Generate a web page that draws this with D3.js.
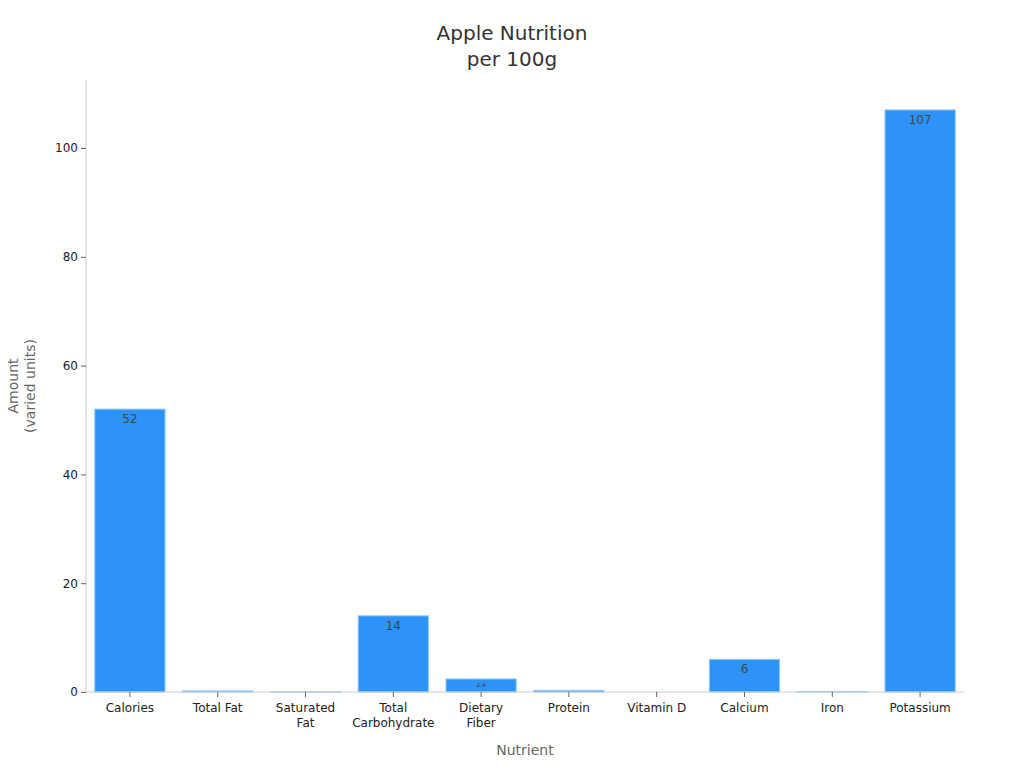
<!DOCTYPE html>
<html><head><meta charset="utf-8">
<script src="https://cdn.jsdelivr.net/npm/d3@7"></script>
<style>body{margin:0;background:#fff;font-family:"DejaVu Sans",sans-serif;}</style>
</head><body><svg id="c" width="1024" height="768"></svg>
<script>
const categories = ["Calories","Total Fat","Saturated Fat","Total Carbohydrate","Dietary Fiber","Protein","Vitamin D","Calcium","Iron","Potassium"];
const values = [52, 0.2, 0.03, 14, 2.4, 0.3, 0, 6, 0.1, 107];
const yTicks = [0, 20, 40, 60, 80, 100];

const svg = d3.select("#c");
const m = {l:86, r:964, t:80, b:692};
const x = d3.scaleBand().domain(categories).range([m.l, m.r]).paddingInner(0.2).paddingOuter(0.1);
const y = d3.scaleLinear().domain([0, 112.5]).range([m.b, m.t]);

svg.append("text").attr("x",512).attr("y",40).attr("text-anchor","middle")
  .attr("font-size",20).attr("fill","#333").text("Apple Nutrition");
svg.append("text").attr("x",512).attr("y",66).attr("text-anchor","middle")
  .attr("font-size",20).attr("fill","#333").text("per 100g");

// bars
svg.append("g").selectAll("rect").data(categories).join("rect")
  .attr("x", d => x(d)).attr("width", x.bandwidth())
  .attr("y", (d,i) => y(values[i])).attr("height", (d,i) => y(0)-y(values[i]))
  .attr("fill","#2e93f8").attr("stroke","#8ec9f8").attr("stroke-width",1);

// labels
const fsOf = i => Math.min(12,(y(0)-y(values[i]))*0.45);
svg.append("g").selectAll("text").data(categories).join("text")
  .attr("x", d => x(d)+x.bandwidth()/2)
  .attr("y", (d,i) => y(values[i])+fsOf(i)+2)
  .attr("text-anchor","middle").attr("fill","#444")
  .attr("font-size",(d,i)=>fsOf(i))
  .text((d,i)=> (y(0)-y(values[i]))>6 ? values[i] : "");

// y axis
const ya = svg.append("g").attr("transform",`translate(${m.l},0)`)
  .call(d3.axisLeft(y).tickValues(yTicks).tickSize(5).tickPadding(3));
ya.select(".domain").attr("stroke","#ccc").attr("d",`M0,${m.t}V${m.b}`);
ya.selectAll(".tick line").attr("stroke","#666");
ya.selectAll(".tick text").attr("font-size",12).attr("fill","#222").attr("font-family","DejaVu Sans");

// x axis
const xa = svg.append("g").attr("transform",`translate(0,${m.b})`)
  .call(d3.axisBottom(x).tickSize(5).tickPadding(6));
xa.select(".domain").attr("stroke","#ccc").attr("d",`M${m.l},0H${m.r}`);
xa.selectAll(".tick line").attr("stroke","#666");
xa.selectAll(".tick text").attr("font-size",12).attr("fill","#222").attr("font-family","DejaVu Sans")
  .each(function(d){
    const t=d3.select(this); const words=d.split(" ");
    if(words.length>1 && d!=="Total Fat" && d!=="Vitamin D"){
      t.text(null);
      words.forEach((w,i)=>t.append("tspan").attr("x",0).attr("dy",i===0?"0.71em":"1.33em").text(w));
    }
  });

svg.append("text").attr("x",525).attr("y",755).attr("text-anchor","middle")
  .attr("font-size",14).attr("fill","#666").text("Nutrient");
const yl = svg.append("text").attr("transform","translate(18,386) rotate(-90)")
  .attr("text-anchor","middle").attr("font-size",14).attr("fill","#666");
yl.append("tspan").attr("x",0).attr("dy",0).text("Amount");
yl.append("tspan").attr("x",0).attr("dy","1.2em").text("(varied units)");
</script></body></html>
